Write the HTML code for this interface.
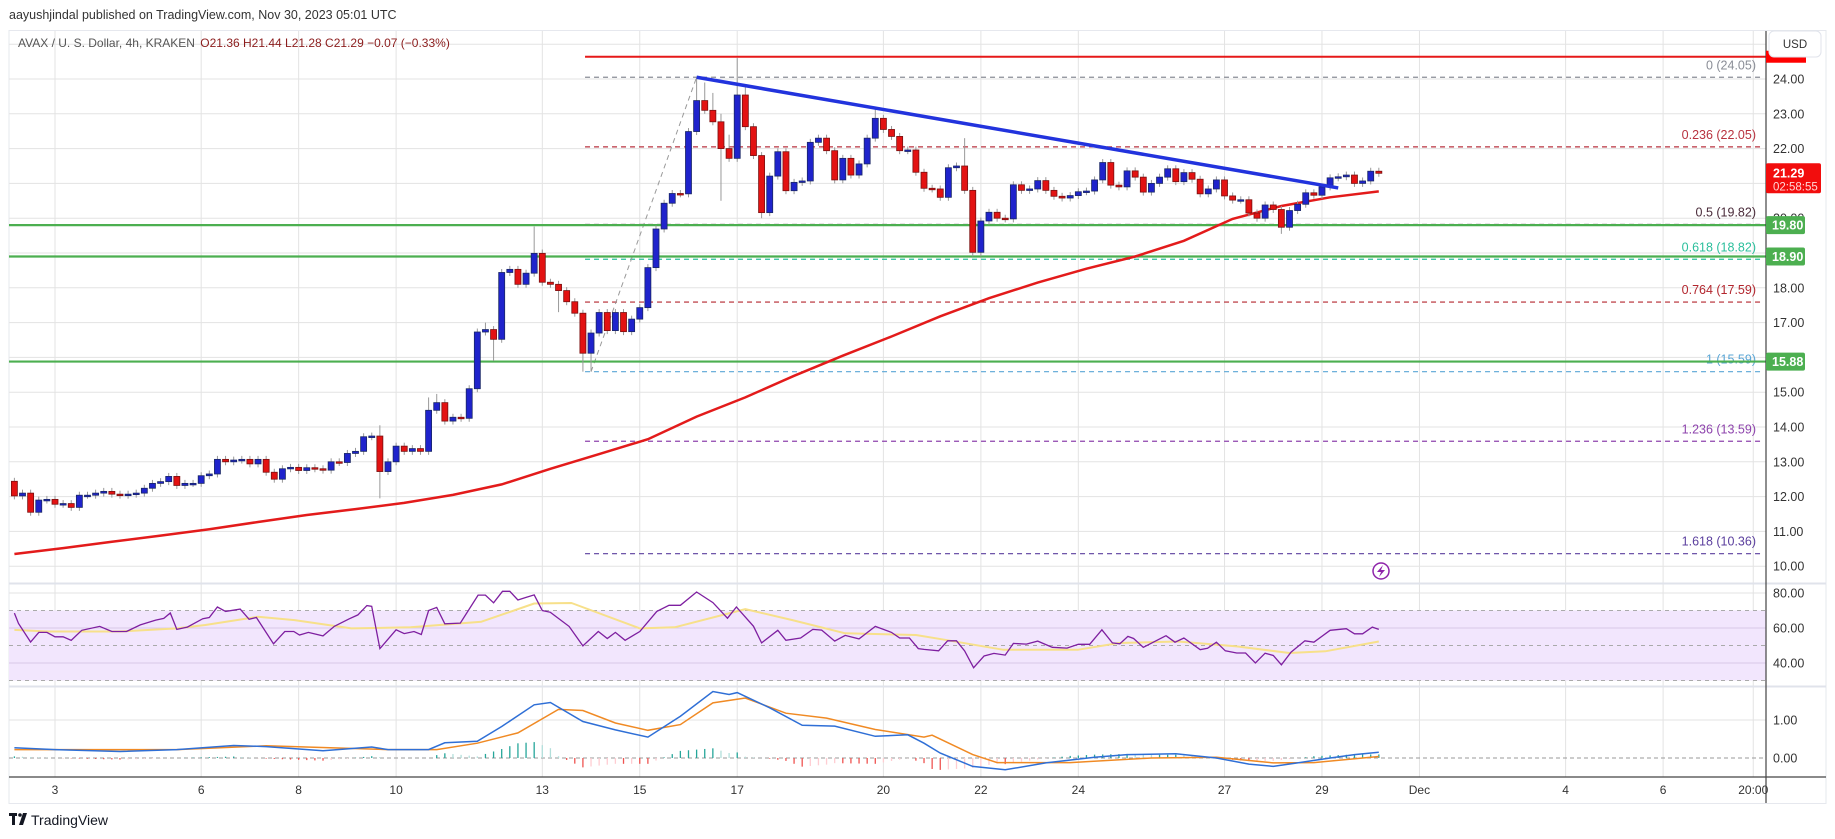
<!DOCTYPE html>
<html><head><meta charset="utf-8">
<style>
html,body{margin:0;padding:0;background:#fff;}
svg{display:block;font-family:"Liberation Sans",sans-serif;}
</style></head>
<body>
<svg id="chart" width="1835" height="839" viewBox="0 0 1835 839" xmlns="http://www.w3.org/2000/svg">
  <rect x="0" y="0" width="1835" height="839" fill="#ffffff"/>
  <text x="9" y="19" font-size="12.5" fill="#333">aayushjindal published on TradingView.com, Nov 30, 2023 05:01 UTC</text>
  <rect x="9" y="30.5" width="1817" height="773" fill="none" stroke="#e6e8ee" stroke-width="1"/>
  <g id="grid"></g>
  <g id="panes"></g>
  <g id="main"></g>
  <g id="axes"></g>
  <text x="18" y="47" font-size="12" fill="#555">AVAX / U. S. Dollar, 4h, KRAKEN <tspan fill="#8b1c1c" dx="2">O21.36  H21.44  L21.28  C21.29  −0.07 (−0.33%)</tspan></text>
  <g>
    <rect x="9" y="813" width="8" height="3" fill="#131722"/>
    <rect x="12" y="813" width="3" height="12" fill="#131722"/>
    <circle cx="20" cy="815" r="1.8" fill="#131722"/>
    <path d="M19 825 L23 813 L27 813 L23 825 Z" fill="#131722"/>
    <text x="31" y="825" font-size="14" fill="#131722">TradingView</text>
  </g>
</svg>
<script>
// ---------------- data ----------------
const firstOpen = 12.44;
const closes = [12.02,12.1,11.55,11.9,11.92,11.78,11.8,11.69,12.04,12.04,
12.1,12.15,12.07,12.04,12.07,12.1,12.24,12.38,12.43,12.58,
12.32,12.38,12.38,12.6,12.65,13.07,13.0,13.05,13.07,12.94,
13.07,12.7,12.5,12.8,12.84,12.75,12.83,12.8,12.76,13.0,
12.98,13.24,13.3,13.72,13.74,12.72,13.0,13.45,13.3,13.38,
13.3,14.48,14.7,14.17,14.28,14.25,15.1,16.73,16.8,16.52,
18.44,18.53,18.1,18.42,18.99,18.16,18.1,17.92,17.6,17.27,
16.12,16.7,17.29,16.77,17.29,16.74,17.1,17.43,18.58,19.69,
20.43,20.71,20.7,22.49,23.38,23.1,22.77,22.0,21.72,23.54,
22.63,21.8,20.16,21.21,21.91,20.79,21.03,21.07,22.18,22.3,
21.94,21.1,21.72,21.24,21.56,22.3,22.87,22.55,22.35,21.94,
21.96,21.32,20.86,20.84,20.6,21.45,21.5,20.8,19.02,19.92,
20.17,20.0,19.98,20.96,20.8,20.84,21.08,20.8,20.63,20.58,
20.65,20.76,20.78,21.1,21.6,20.95,20.9,21.36,21.18,20.75,
21.0,21.18,21.42,21.05,21.31,21.12,20.7,20.84,21.1,20.64,
20.52,20.53,20.15,20.0,20.38,20.25,19.74,20.22,20.4,20.73,
20.66,20.9,21.16,21.19,21.24,21.0,21.07,21.35,21.29];
const highIdx = [45,64,65,84,85,86,87,88,89,90,106,117,58,51,52];
const highVal = [14.05,19.76,19.1,24.05,23.9,23.6,23.0,22.4,24.6,23.85,23.15,22.3,17.0,14.85,14.95];
const lowIdx = [45,70,71,92,118,119,156,87,67,59];
const lowVal = [11.95,15.59,15.6,20.0,18.9,18.9,19.55,20.5,17.3,15.9];
const maIdx = [0,6,12,18,24,30,36,42,48,54,60,66,72,78,84,90,96,102,108,114,120,126,132,138,144,150,156,162,168];
const maVal = [10.35,10.52,10.7,10.88,11.06,11.27,11.47,11.64,11.82,12.05,12.35,12.8,13.22,13.65,14.3,14.85,15.47,16.05,16.6,17.18,17.7,18.15,18.55,18.9,19.35,19.98,20.35,20.6,20.77];
const fibLevels = ["0","0.236","0.5","0.618","0.764","1","1.236","1.618"];
const fibPrices = [24.05,22.05,19.82,18.82,17.59,15.59,13.59,10.36];
const fibColors = ["#8a8d96","#b8323f","#4a2b3a","#2bbf9c","#b3262e","#5aa6d6","#8e44ad","#5b3f9e"];
const supportPrices = [19.80,18.90,15.88];
const resistancePrice = 24.64;
const trendFrom = [84,24.05];
const trendTo = [163,20.87];
const priceTicks = [24,23,22,20,18,17,15,14,13,12,11,10];
const lastPrice = 21.29;
const rsiIdx = [0,0.5,2,3,4,5,6,7,8.3,10.5,12,13.8,15.5,17.4,18.4,19.2,20,21.3,23.2,24,25,26,27.8,28.9,29.8,31.9,33.3,34.4,35.1,36.2,38,39.4,41.2,42.3,43.4,44,45,47,48,49.2,50.1,51,52,53,54.9,57.1,58,59,60.1,61,62,63,64,65,66,68.3,70,71.9,73,74,75.2,77,79.1,80.6,82,84,86,87.8,88.9,91,92,94,95,96.8,98.3,99.4,101,102.3,104,106,108,109,110.2,111.3,112,113.8,114.9,116,117,118.1,119.4,120.6,122,123,124.6,126,127.8,129.6,131,132.4,133.9,135.2,136.1,137.1,137.8,139,140.5,141.8,142.9,144,146,146.9,148,149.1,150.5,151.6,152.8,154,155,156,157.2,158.9,160,162,164,165,166,167.2,168];
const rsiVal = [68.5,62.6,52,57.5,57.5,55,55,53,58.7,60.9,58,58,61.8,64.5,65.5,68.6,59.2,60.5,65.3,66,72,69.5,70.8,65,66,51,58,58,56,57.5,55.5,61,65.2,67.5,72.8,72.4,48.2,59,56.8,58,56.3,70,71.8,62.4,62.8,78.8,78.8,74.4,81,81,76,77.5,78.9,70,69,60.9,49.8,58,54,57.5,53,58,69.5,73,73,80.6,74.5,65.6,72,61,51.5,58.7,53,54.3,59.2,58.8,52.5,55.8,53.8,60.9,57.5,54.3,54.3,48.2,47.8,47,52.7,52.7,47,37.3,44,45.5,44.5,51.2,50.8,52.5,49,48.5,50.7,50.7,59,51.5,51,55.2,54,49,52.5,55.6,51.9,54.3,47.6,48.4,51.9,47,45.7,45.7,40,45.6,44.3,39,46.2,52.7,51.9,58.7,59.6,56.7,56.7,60.5,59.2];
const rsiMaIdx = [0,4,13,20,23.5,30,34.5,41.5,48.8,57.5,64,68.6,77,81.3,90,95.8,102.3,111,114.5,121.7,131,136,143.3,150.5,157,161.4,168];
const rsiMaVal = [58.9,58,58,59.8,61.7,66.4,64.5,59.8,60.4,63.6,74,74.3,59.8,60.4,70.8,64.5,57,56,53.3,47.6,47.6,51.4,52.3,49.5,45.7,46.7,52.3];
const rsiTicks = [80,60,40];
const macdIdx = [0,5,13,20,27,31,38,44,46,51,53,57,60,64,66,70,74,78,82,86,88,89,93,97,101,106,110,112,114,118,122,127,133,137,143,148,152,155,158,162,165,168];
const macdVal = [0.27,0.22,0.17,0.22,0.33,0.3,0.19,0.29,0.22,0.22,0.4,0.44,0.83,1.4,1.46,0.96,0.74,0.55,1.1,1.75,1.67,1.72,1.32,0.86,0.84,0.57,0.61,0.39,0.13,-0.22,-0.31,-0.13,0.02,0.09,0.11,0.0,-0.16,-0.22,-0.13,0.0,0.09,0.15];
const signalIdx = [0,20,31,46,52,57,62,67,70,74,78,82,86,90,95,100,106,112,113,118,121,130,140,148,155,160,168];
const signalVal = [0.22,0.22,0.32,0.22,0.22,0.39,0.66,1.28,1.25,0.92,0.73,0.88,1.45,1.58,1.18,1.05,0.75,0.55,0.6,0.09,-0.12,-0.12,0.0,0.02,-0.13,-0.12,0.04];
const macdTicks = [1.00,0.00];
const dateLabels = ["3","6","8","10","13","15","17","20","22","24","27","29","Dec","4","6","20:00"];
const dateDays = [3,6,8,10,13,15,17,20,22,24,27,29,31,34,36,37.85];

// ---------------- scales ----------------
const NS = "http://www.w3.org/2000/svg";
const X0 = 9, XR = 1766;
const dayX = d => 55 + (d - 3) * 48.73;
const xi = i => dayX(2 + (4 + 4 * i) / 24);
const yP = p => 79 + (24 - p) * 34.8;
const yR = v => 593 + (80 - v) * 1.75;
const yM = v => 758 - 38 * v;
function el(tag, attrs, parent) {
  const e = document.createElementNS(NS, tag);
  for (const k in attrs) e.setAttribute(k, attrs[k]);
  parent.appendChild(e);
  return e;
}
function interp(idx, val, t) {
  if (t <= idx[0]) return val[0];
  for (let k = 1; k < idx.length; k++) if (t <= idx[k]) {
    const f = (t - idx[k-1]) / (idx[k] - idx[k-1]);
    return val[k-1] + f * (val[k] - val[k-1]);
  }
  return val[val.length - 1];
}
const grid = document.getElementById('grid');
const panes = document.getElementById('panes');
const main = document.getElementById('main');
const axes = document.getElementById('axes');

// vertical grid
dateDays.forEach((d, k) => {
  const l = el('line', {x1: dayX(d), x2: dayX(d), y1: 31, y2: 777, stroke: '#e3e3e3', 'stroke-width': 1}, grid);
  
  
  const t = el('text', {x: dayX(d), y: 794, 'font-size': 12, fill: '#333', 'text-anchor': 'middle'}, axes);
  t.textContent = dateLabels[k];
  
  
});
// horizontal price grid
for (let p = 10; p <= 25; p++) {
  const l = el('line', {x1: X0, x2: XR, y1: yP(p), y2: yP(p), stroke: '#e3e3e3'}, grid);
  
  
}
// RSI pane
const band = el('rect', {x: X0, y: yR(70), width: XR - X0, height: yR(30) - yR(70), fill: '#f2e6fd'}, panes);


[80,60,40].forEach(v => {
  const l = el('line', {x1: X0, x2: XR, y1: yR(v), y2: yR(v), stroke: v === 80 ? '#e3e3e3' : '#d8c8e6'}, panes);
  
  
});
[70,50,30].forEach(v => {
  const l = el('line', {x1: X0, x2: XR, y1: yR(v), y2: yR(v), stroke: '#aaa', 'stroke-dasharray': '4,4'}, panes);
  
  
});
// MACD gridlines
{
  const l = el('line', {x1: X0, x2: XR, y1: yM(1), y2: yM(1), stroke: '#e3e3e3'}, panes);
  
  
  const z = el('line', {x1: X0, x2: XR, y1: yM(0), y2: yM(0), stroke: '#999', 'stroke-dasharray': '4,3'}, panes);
  
  
}
// pane separators
[[583.5,'#e0e3eb'],[686.5,'#e0e3eb']].forEach(s => {
  const l = el('line', {x1: X0, x2: 1826, y1: s[0], y2: s[0], stroke: s[1], 'stroke-width': 2}, panes);
  
  
});
{
  const l = el('line', {x1: X0, x2: 1826, y1: 777, y2: 777, stroke: '#444', 'stroke-width': 1.2}, axes);
  
  
  const v = el('line', {x1: XR, x2: XR, y1: 31, y2: 803, stroke: '#444', 'stroke-width': 1.2}, axes);
  
  
}

// fib levels
const fibStartX = xi(71) - 6;
fibPrices.forEach((p, k) => {
  const l = el('line', {x1: fibStartX, x2: 1762, y1: yP(p), y2: yP(p), stroke: fibColors[k], 'stroke-width': 1.2, 'stroke-dasharray': '5,4'}, main);
  
  
  const t = el('text', {x: 1756, y: yP(p) - 8, 'font-size': 12.5, fill: fibColors[k], 'text-anchor': 'end'}, main);
  t.textContent = fibLevels[k] + ' (' + p.toFixed(2) + ')';
  
  
});
{
  const d = el('line', {x1: xi(71), y1: yP(15.59), x2: xi(84), y2: yP(24.05), stroke: '#999', 'stroke-width': 1, 'stroke-dasharray': '5,4'}, main);
  
  
}
// support lines
supportPrices.forEach(p => {
  const l = el('line', {x1: X0, x2: XR, y1: yP(p), y2: yP(p), stroke: '#4caf50', 'stroke-width': 2.2}, main);
  
  
});
{
  const r = el('line', {x1: fibStartX, x2: XR, y1: yP(resistancePrice), y2: yP(resistancePrice), stroke: '#e61919', 'stroke-width': 2}, main);
  
  
}
// moving average
{
  let d = '';
  maIdx.forEach((i, k) => { d += (k ? 'L' : 'M') + xi(i).toFixed(1) + ',' + yP(maVal[k]).toFixed(1); });
  const p = el('path', {d: d, fill: 'none', stroke: '#e31b1b', 'stroke-width': 2.5}, main);
  
  
}
// candles
closes.forEach((c, i) => {
  const o = i === 0 ? firstOpen : closes[i-1];
  let hi = Math.max(o, c) + 0.1, lo = Math.min(o, c) - 0.1;
  const hk = highIdx.indexOf(i); if (hk >= 0) hi = highVal[hk];
  const lk = lowIdx.indexOf(i); if (lk >= 0) lo = lowVal[lk];
  const x = xi(i);
  const up = c >= o;
  const w = el('line', {x1: x, x2: x, y1: yP(hi), y2: yP(lo), stroke: '#999', 'stroke-width': 1}, main);
  
  
  const top = yP(Math.max(o, c)), bot = yP(Math.min(o, c));
  const b = el('rect', {x: x - 3, y: top, width: 6, height: Math.max(1.5, bot - top), fill: up ? '#1f23cc' : '#e31212', stroke: up ? '#1a2766' : '#7a1010', 'stroke-width': 0.8}, main);
  
  
});
// trend line
{
  const t = el('line', {x1: xi(trendFrom[0]), y1: yP(trendFrom[1]), x2: xi(trendTo[0]), y2: yP(trendTo[1]), stroke: '#2233dd', 'stroke-width': 3.5}, main);
  
  
}
// lightning icon
{
  const g = el('g', {}, main);
  
  
  el('circle', {cx: 1381, cy: 571, r: 8, fill: '#fff', stroke: '#8e24aa', 'stroke-width': 1.5}, g);
  el('path', {d: 'M1383,565 L1377,572 L1381,572 L1379,577 L1385,570 L1381,570 Z', fill: '#8e24aa'}, g);
}
// RSI
{
  let d = '';
  rsiIdx.forEach((i, k) => { d += (k ? 'L' : 'M') + xi(i).toFixed(1) + ',' + yR(rsiVal[k]).toFixed(1); });
  let dm = '';
  rsiMaIdx.forEach((i, k) => { dm += (k ? 'L' : 'M') + xi(i).toFixed(1) + ',' + yR(rsiMaVal[k]).toFixed(1); });
  const m = el('path', {d: dm, fill: 'none', stroke: '#f7e08a', 'stroke-width': 2, 'stroke-linejoin': 'round'}, panes);
  
  
  const r = el('path', {d: d, fill: 'none', stroke: '#7e1fa0', 'stroke-width': 1.3}, panes);
  
  
}
// MACD
for (let i = 0; i < closes.length; i++) {
  const h = interp(macdIdx, macdVal, i) - interp(signalIdx, signalVal, i);
  const hp = i ? interp(macdIdx, macdVal, i-1) - interp(signalIdx, signalVal, i-1) : h;
  const col = h >= 0 ? (h >= hp ? '#26a69a' : '#b2dfdb') : (h <= hp ? '#ef5350' : '#ffcdd2');
  const x = xi(i);
  const b = el('line', {x1: x, x2: x, y1: yM(0), y2: yM(h * 0.85), stroke: col, 'stroke-width': 1.3}, panes);
  
  
}
{
  let d = '', ds = '';
  macdIdx.forEach((i, k) => { d += (k ? 'L' : 'M') + xi(i).toFixed(1) + ',' + yM(macdVal[k]).toFixed(1); });
  signalIdx.forEach((i, k) => { ds += (k ? 'L' : 'M') + xi(i).toFixed(1) + ',' + yM(signalVal[k]).toFixed(1); });
  const s = el('path', {d: ds, fill: 'none', stroke: '#f08a24', 'stroke-width': 1.5}, panes);
  
  
  const m = el('path', {d: d, fill: 'none', stroke: '#2f6fd6', 'stroke-width': 1.5}, panes);
  
  
}
// price axis labels
priceTicks.forEach(p => {
  const t = el('text', {x: 1773, y: yP(p) + 4.5, 'font-size': 12.5, fill: '#333'}, axes);
  t.textContent = p.toFixed(2);
  
  
});
rsiTicks.forEach(v => {
  const t = el('text', {x: 1773, y: yR(v) + 4.5, 'font-size': 12.5, fill: '#333'}, axes);
  t.textContent = v.toFixed(2);
  
  
});
macdTicks.forEach(v => {
  const t = el('text', {x: 1773, y: yM(v) + 4.5, 'font-size': 12.5, fill: '#333'}, axes);
  t.textContent = v.toFixed(2);
  
  
});
// resistance tag (partly hidden)
{
  const r = el('rect', {x: XR, y: yP(resistancePrice) - 6, width: 40, height: 12, fill: '#f00'}, axes);
  
  
}
// support tags
supportPrices.forEach(p => {
  const r = el('rect', {x: XR, y: yP(p) - 9, width: 39, height: 18, rx: 2, fill: '#4caf50'}, axes);
  
  
  const t = el('text', {x: XR + 6, y: yP(p) + 4.5, 'font-size': 12.5, 'font-weight': 'bold', fill: '#fff'}, axes);
  t.textContent = p.toFixed(2);
  
  
});
// last price tag
{
  const y = yP(lastPrice);
  const r = el('rect', {x: XR, y: y - 10, width: 55, height: 30, rx: 2, fill: '#f20d0d'}, axes);
  
  
  const t = el('text', {x: XR + 7, y: y + 4, 'font-size': 12.5, 'font-weight': 'bold', fill: '#fff'}, axes);
  t.textContent = lastPrice.toFixed(2);
  
  
  const c = el('text', {x: XR + 7, y: y + 17, 'font-size': 11.5, fill: '#ffd6d6'}, axes);
  c.textContent = '02:58:55';
  
  
}
// USD currency button
{
  const r = el('rect', {x: 1769, y: 31, width: 52, height: 26, rx: 5, fill: '#fff', stroke: '#e0e3eb'}, axes);
  
  
  const t = el('text', {x: 1795, y: 48, 'font-size': 11.5, fill: '#333', 'text-anchor': 'middle'}, axes);
  t.textContent = 'USD';
  
  
}
</script>
</body></html>
